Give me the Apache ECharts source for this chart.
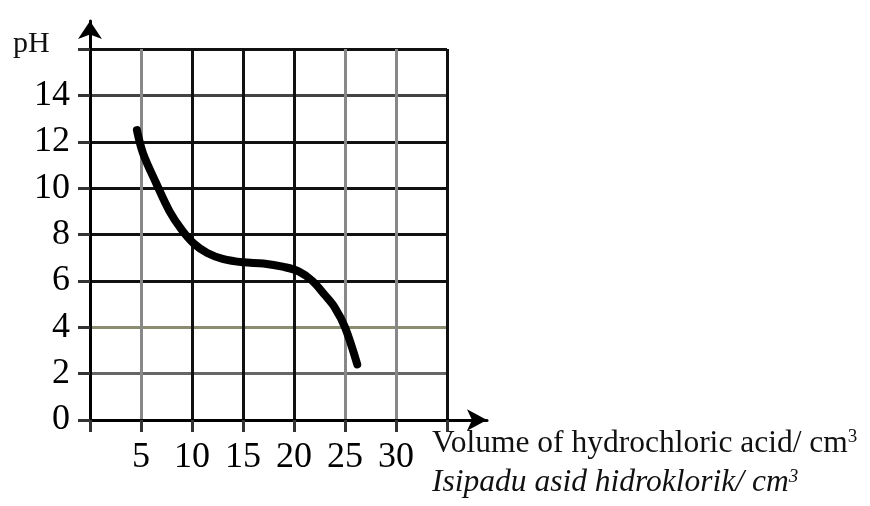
<!DOCTYPE html>
<html>
<head>
<meta charset="utf-8">
<script src="https://cdn.jsdelivr.net/npm/echarts@6/dist/echarts.min.js"></script>
<style>
  html, body { margin: 0; padding: 0; background: #fff; }
  #chart { width: 870px; height: 506px; }
</style>
</head>
<body>
<div id="chart"></div>
<script>
// data
var volume = [4.6, 5.2, 6.5, 7.8, 9.0, 10.2, 11.5, 13.0, 15.0, 17.0, 19.0, 20.5, 21.8, 23.0, 24.0, 25.0, 26.2];
var ph = [12.5, 11.5, 10.2, 9.0, 8.2, 7.6, 7.2, 6.95, 6.8, 6.75, 6.6, 6.4, 6.0, 5.4, 4.85, 4.0, 2.4];
var xTickLabels = [5, 10, 15, 20, 25, 30];
var yTickLabels = [0, 2, 4, 6, 8, 10, 12, 14];

var serif = '"Liberation Serif", "Times New Roman", serif';

document.addEventListener('DOMContentLoaded', function () {
    var chart = echarts.init(document.getElementById('chart'));

    var pts = volume.map(function (v, i) { return [v, ph[i]]; });

    var option = {
        animation: false,
        grid: [
            { left: 90, right: 423, top: 49, bottom: 86 },
            // only for the long axis lines with arrows
            { left: 90, right: 383, top: 21, bottom: 86 }
        ],
        xAxis: [
            {
                type: 'value', gridIndex: 0, min: 0, max: 35, interval: 5,
                axisLine: { show: false },
                axisTick: { show: true, length: 12, lineStyle: { color: '#333', width: 3 } },
                axisLabel: {
                    margin: 20, color: '#000', fontFamily: serif, fontSize: 36,
                    formatter: function (v) { return xTickLabels.indexOf(v) >= 0 ? String(v) : ''; }
                },
                splitLine: {
                    show: true,
                    lineStyle: { width: 3, color: ['#111', '#888', '#111', '#111', '#111', '#888', '#888', '#111'] }
                }
            },
            {
                type: 'value', gridIndex: 1, min: 0, max: 1,
                axisLine: {
                    show: true, onZero: false,
                    symbol: ['none', 'arrow'], symbolSize: [16, 20],
                    lineStyle: { color: '#000', width: 3 }
                },
                axisTick: { show: false }, axisLabel: { show: false }, splitLine: { show: false }
            }
        ],
        yAxis: [
            {
                type: 'value', gridIndex: 0, min: 0, max: 16, interval: 2,
                axisLine: { show: false },
                axisTick: { show: true, length: 12, lineStyle: { color: '#333', width: 3 } },
                axisLabel: {
                    margin: 20, color: '#000', fontFamily: serif, fontSize: 36,
                    formatter: function (v) { return yTickLabels.indexOf(v) >= 0 ? String(v) : ''; }
                },
                splitLine: {
                    show: true,
                    lineStyle: { width: 3, color: ['#111', '#666', '#8c8c70', '#111', '#111', '#111', '#111', '#444', '#111'] }
                }
            },
            {
                type: 'value', gridIndex: 1, min: 0, max: 1,
                axisLine: {
                    show: true, onZero: false,
                    symbol: ['none', 'arrow'], symbolSize: [18, 18],
                    lineStyle: { color: '#000', width: 3 }
                },
                axisTick: { show: false }, axisLabel: { show: false }, splitLine: { show: false }
            }
        ],
        series: [
            {
                type: 'line',
                xAxisIndex: 0, yAxisIndex: 0,
                data: pts,
                smooth: 0.35,
                showSymbol: false,
                lineStyle: { color: '#000', width: 8, cap: 'round' },
                z: 5
            }
        ],
        graphic: [
            {
                type: 'text', left: 13, top: 29,
                style: { text: 'pH', font: '30px ' + serif, fill: '#111' }
            },
            {
                type: 'text', left: 432, top: 428,
                style: {
                    text: '{a|Volume of hydrochloric acid/ cm}{s|3}',
                    rich: {
                        a: { font: '31.5px ' + serif, fill: '#111', verticalAlign: 'bottom' },
                        s: { font: '19px ' + serif, fill: '#111', verticalAlign: 'top' }
                    }
                }
            },
            {
                type: 'text', left: 432, top: 467,
                style: {
                    text: '{a|Isipadu asid hidroklorik/ cm}{s|3}',
                    rich: {
                        a: { font: 'italic 31.5px ' + serif, fill: '#111', verticalAlign: 'bottom' },
                        s: { font: 'italic 19px ' + serif, fill: '#111', verticalAlign: 'top' }
                    }
                }
            }
        ]
    };
    chart.setOption(option);

    window.addEventListener('resize', function () {
        chart.resize();
    });
});
</script>
</body>
</html>
